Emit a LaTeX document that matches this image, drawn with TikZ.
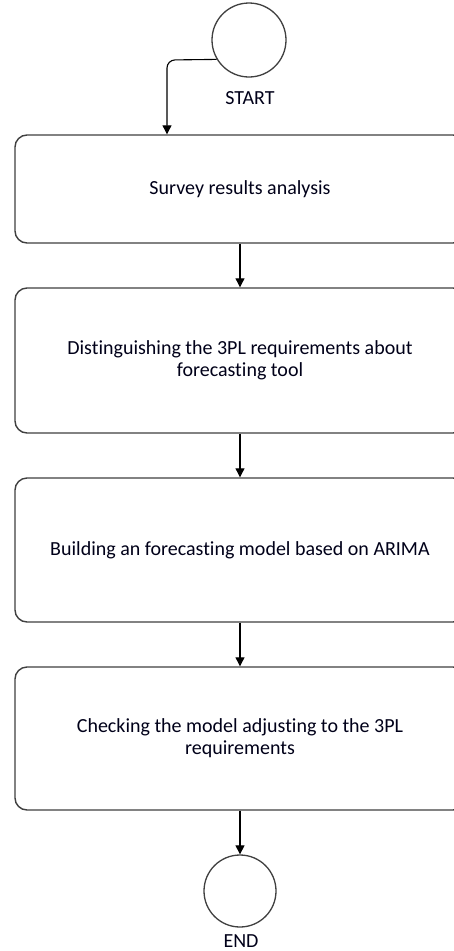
\documentclass[tikz,border=0pt]{standalone}
\usepackage{fontspec}
\setmainfont[Ligatures=NoCommon]{Carlito}
\usetikzlibrary{arrows.meta}
\tikzset{
  stepbox/.style={draw=black!75, line width=1.4pt, rounded corners=12pt, fill=white,
    minimum width=450pt, align=center, text=black!90!blue,
    font=\fontsize{20pt}{22pt}\selectfont},
  term/.style={draw=black!75, line width=1.3pt, circle, fill=white},
  lbl/.style={font=\fontsize{20pt}{22pt}\selectfont, text=black!90!blue, inner sep=0pt},
  arr/.style={draw=black, line width=1.1pt, -{Triangle[width=9pt,length=9pt]}}
}
\begin{document}
\begin{tikzpicture}[x=1pt,y=-1pt]
\useasboundingbox (0,0) rectangle (454,951);
\clip (0,0) rectangle (454,951);
\fill[white] (0,0) rectangle (454,951);
\node[term, minimum size=74pt] (s) at (249,40) {};
\node[lbl] (st) at (250,98) {START};
\node[stepbox, minimum height=108pt] (b1) at (240,189) {Survey results analysis};
\node[stepbox, minimum height=145pt] (b2) at (240,360.5) {Distinguishing the 3PL requirements about\\forecasting tool};
\node[stepbox, minimum height=144pt] (b3) at (240,550) {Building an forecasting model based on ARIMA};
\node[stepbox, minimum height=143pt] (b4) at (240,738.5) {Checking the model adjusting to the 3PL\\requirements};
\node[term, minimum size=72pt] (e) at (240,891) {};
\node[lbl] (en) at (241,941) {END};
\coordinate (bend) at (167,60);
\draw[arr, rounded corners=8pt] (s.211) -- (bend) -- (bend |- b1.north);
\draw[arr] (b1.south) -- (b2.north);
\draw[arr] (b2.south) -- (b3.north);
\draw[arr] (b3.south) -- (b4.north);
\draw[arr] (b4.south) -- (e.north);
\end{tikzpicture}
\end{document}
